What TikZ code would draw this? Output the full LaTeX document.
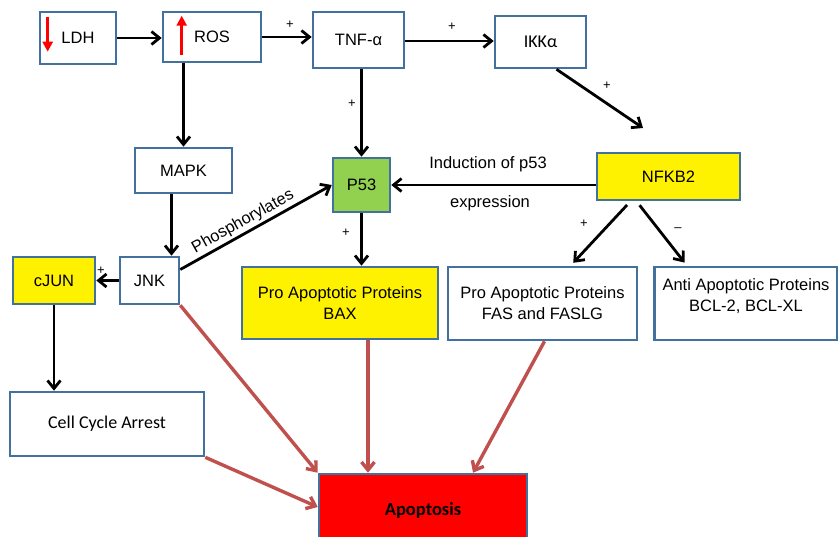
\documentclass[tikz,border=0pt]{standalone}
\usepackage{fontspec}
\setmainfont{Liberation Sans}
\newfontfamily\calfont{Carlito}
\usetikzlibrary{arrows.meta}

\definecolor{boxline}{RGB}{65,113,156}
\definecolor{ppgreen}{RGB}{146,208,80}
\definecolor{apored}{RGB}{192,80,77}

\begin{document}
\begin{tikzpicture}[x=1pt, y=-1pt, >={Straight Barb[length=8pt,width=13pt]},
    font=\fontsize{16.5}{21}\selectfont,
    pbox/.style={draw=boxline, line width=2.6pt, fill=white, align=center, inner sep=2pt},
    link/.style={->, line width=2.8pt, black},
    redlink/.style={->, line width=3.4pt, apored},
    sign/.style={font=\fontsize{13}{14}\selectfont}]

    \useasboundingbox (0,0) rectangle (838,536);

    %%% Top row
    \node (ldh) [pbox, minimum width=76, minimum height=52] at (78,38) {LDH};
    \node (ros) [pbox, minimum width=98, minimum height=50] at (212,37) {ROS};
    \node (tnf) [pbox, minimum width=91, minimum height=56] at (358.5,40) {TNF-α};
    \node (ikk) [pbox, minimum width=91, minimum height=52] at (540.5,42) {\calfont\fontsize{18}{21}\selectfont IKKα};

    % red up / down marks
    \draw[red, line width=3pt, -{Triangle[length=10pt,width=10pt]}]
        ([shift={(9,6)}]ldh.north west) -- ([shift={(9,41)}]ldh.north west);
    \draw[red, line width=3pt, -{Triangle[length=10pt,width=10pt]}]
        ([shift={(20,44)}]ros.north west) -- ([shift={(20,5)}]ros.north west);

    %%% Middle
    \node (mapk) [pbox, minimum width=97, minimum height=45] at (183.5,170.5) {MAPK};
    \node (p53) [pbox, fill=ppgreen, minimum width=57, minimum height=54] at (361.5,185) {P53};
    \node (nfkb) [pbox, fill=yellow, minimum width=143, minimum height=47] at (668.5,176.5) {NFKB2};
    \node (jnk) [pbox, minimum width=59, minimum height=47] at (149.5,280.5) {JNK};
    \node (cjun) [pbox, fill=yellow, minimum width=82, minimum height=47] at (54,280.5) {cJUN};
    \node (bax) [pbox, fill=yellow, minimum width=196, minimum height=72] at (340,303) {Pro Apoptotic Proteins\\BAX};
    \node (fas) [pbox, minimum width=189, minimum height=73] at (542.5,303.5) {Pro Apoptotic Proteins\\FAS and FASLG};
    \node (anti) [pbox, minimum width=183, minimum height=73] at (746,303.5) {Anti Apoptotic Proteins\\BCL-2, BCL-XL\\[-4pt]};

    %%% Bottom
    \node (cell) [pbox, minimum width=194, minimum height=64] at (107,424) {\calfont\fontsize{18}{21}\selectfont Cell Cycle Arrest};
    \node (apo) [pbox, fill=red, minimum width=208, minimum height=72] at (423,510) {\calfont\bfseries\fontsize{18.5}{21}\selectfont Apoptosis};

    \coordinate (ikkend) at (643,128);

    %%% Black arrows
    \draw[link] (ldh.east) -- (ldh.east -| ros.west);
    \draw[link] (ros.east) -- (ros.east -| tnf.west);
    \draw[link] ([yshift=-1]tnf.east) -- ([yshift=-1]tnf.east -| ikk.west);
    \draw[link] (ros.south -| mapk.north) -- (mapk.north);
    \draw[link] (tnf.south -| p53.north) -- (p53.north);
    \draw[link] ([xshift=16]ikk.south) -- (ikkend);
    \draw[link] ([xshift=-12]mapk.south) -- ([xshift=-12]mapk.south |- jnk.north);
    \draw[link] ([yshift=11]jnk.east) -- node[sloped, above, pos=0.45, inner sep=2pt] {Phosphorylates} (p53.west);
    \draw[link] (nfkb.west |- p53.east) -- (p53.east);
    \draw[link] (p53.south) -- (p53.south |- bax.north);
    \draw[link] (jnk.west) -- (cjun.east);
    \draw[link] (cjun.south) -- (cjun.south |- cell.north);
    \draw[link, shorten <=5pt, shorten >=4pt] ([xshift=-38]nfkb.south) -- ([xshift=28]fas.north);
    \draw[link, shorten <=5pt, shorten >=4pt] ([xshift=-32]nfkb.south) -- ([xshift=-59]anti.north);

    %%% Red arrows to apoptosis
    \draw[redlink] (jnk.south east) -- (apo.north west);
    \draw[redlink] ([xshift=28]bax.south) -- ([xshift=28]bax.south |- apo.north);
    \draw[redlink] ([xshift=2]fas.south) -- ([xshift=50]apo.north);
    \draw[redlink] (cell.south east) -- ([yshift=3]apo.west);

    %%% Labels
    \node (t1) at (488,164) {Induction of p53};
    \node (t2) at (490,203) {expression};
    \node (s1) [sign] at (290,25) {+};
    \node (s2) [sign] at (452,27) {+};
    \node (s3) [sign] at (607,86) {+};
    \node (s4) [sign] at (352,104) {+};
    \node (s5) [sign] at (346,233) {+};
    \node (s6) [sign] at (101,271) {+};
    \node (s7) [sign] at (584,224) {+};
    \node (s8) [sign] at (678,230) {--};

\end{tikzpicture}
\end{document}
